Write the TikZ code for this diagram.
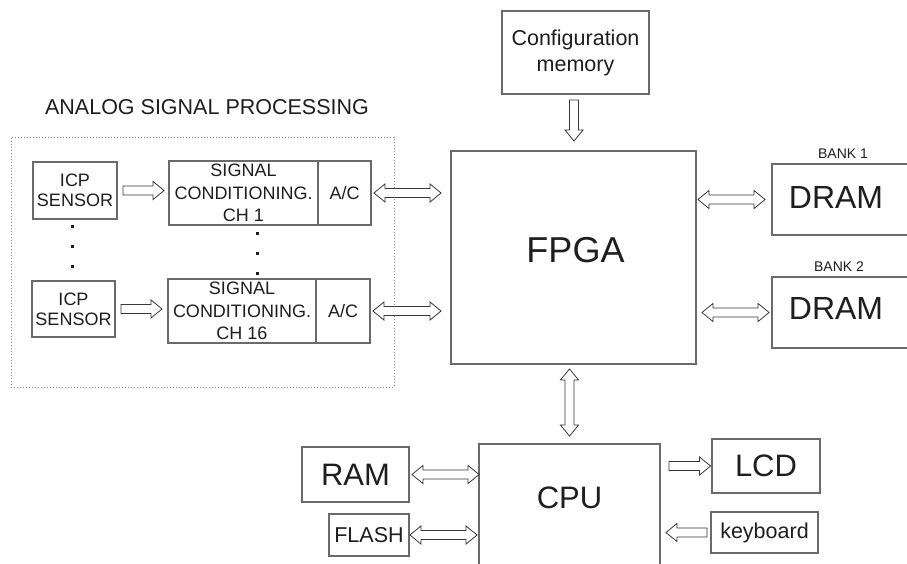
\documentclass[tikz,border=0pt]{standalone}
\usepackage{fontspec}
\setmainfont{Liberation Sans}
\usetikzlibrary{calc}
\definecolor{boxgray}{HTML}{6A6A6A}
\definecolor{txtc}{HTML}{1E1E1E}
\definecolor{arrc}{HTML}{383838}
\definecolor{dotc}{HTML}{8A8A8A}
\begin{document}
\begin{tikzpicture}[x=1pt,y=-1pt,
  box/.style={draw=boxgray, line width=1.9pt, inner sep=0pt, text=txtc, align=center},
  lbl/.style={inner sep=0pt, text=txtc, align=center},
  fS/.style={font=\fontsize{14}{16}\selectfont},
  fA/.style={font=\fontsize{18}{20}\selectfont},
  fB/.style={font=\fontsize{18}{22.5}\selectfont},
  fC/.style={font=\fontsize{21.5}{26}\selectfont},
  fL/.style={font=\fontsize{31}{36}\selectfont},
  fX/.style={font=\fontsize{36}{40}\selectfont},
  onearrow/.style={draw=arrc, line width=0.8pt, fill=white, line join=miter,
    to path={let \p1=(\tikztostart), \p2=(\tikztotarget),
      \n1={atan2(\y2-\y1,\x2-\x1)}, \n2={veclen(\x2-\x1,\y2-\y1)} in
      ($(\p1)+(\n1+90:4.5pt)$) -- ($(\p1)+(\n1:\n2-11pt)+(\n1+90:4.5pt)$)
      -- ($(\p1)+(\n1:\n2-11pt)+(\n1+90:9pt)$) -- (\p2)
      -- ($(\p1)+(\n1:\n2-11pt)+(\n1-90:9pt)$)
      -- ($(\p1)+(\n1:\n2-11pt)+(\n1-90:4.5pt)$)
      -- ($(\p1)+(\n1-90:4.5pt)$) -- cycle}},
  twoarrow/.style={draw=arrc, line width=0.8pt, fill=white, line join=miter,
    to path={let \p1=(\tikztostart), \p2=(\tikztotarget),
      \n1={atan2(\y2-\y1,\x2-\x1)}, \n2={veclen(\x2-\x1,\y2-\y1)} in
      (\p1) -- ($(\p1)+(\n1:11pt)+(\n1+90:9pt)$) -- ($(\p1)+(\n1:11pt)+(\n1+90:4.5pt)$)
      -- ($(\p1)+(\n1:\n2-11pt)+(\n1+90:4.5pt)$) -- ($(\p1)+(\n1:\n2-11pt)+(\n1+90:9pt)$)
      -- (\p2) -- ($(\p1)+(\n1:\n2-11pt)+(\n1-90:9pt)$) -- ($(\p1)+(\n1:\n2-11pt)+(\n1-90:4.5pt)$)
      -- ($(\p1)+(\n1:11pt)+(\n1-90:4.5pt)$) -- ($(\p1)+(\n1:11pt)+(\n1-90:9pt)$) -- cycle}}
]
\useasboundingbox (0,0) rectangle (907,563);
\clip (0,0) rectangle (907,563);
\fill[white] (0,0) rectangle (907,563);

% analog signal processing group
\node[draw=dotc, line width=0.8pt, dash pattern=on 0.9pt off 2.1pt, minimum width=383, minimum height=250, inner sep=0pt] (asp) at (202.5,262) {};
\node[lbl, font=\fontsize{21.5}{24}\selectfont] (title) at (207,107.5) {ANALOG SIGNAL PROCESSING};

\node[box, fA, minimum width=84, minimum height=57] (sens1) at (75,190.5) {ICP\\SENSOR};
\node[box, fA, minimum width=83, minimum height=56] (sens2) at (73.5,309) {ICP\\SENSOR};
\node[box, fB, minimum width=149, minimum height=64] (sc1) at (243.5,193) {SIGNAL\\CONDITIONING.\\CH 1};
\node[box, fA, minimum width=53, minimum height=64] (ac1) at (344.5,193) {A/C};
\node[box, fB, minimum width=148, minimum height=64] (sc2) at (242,311) {SIGNAL\\CONDITIONING.\\CH 16};
\node[box, fA, minimum width=54, minimum height=64] (ac2) at (343,311) {A/C};

\foreach \yy in {226,246,266} \fill[txtc] (72,\yy) ++(-1.5pt,-1.5pt) rectangle ++(3pt,3pt);
\foreach \yy in {233,253,273} \fill[txtc] (257,\yy) ++(-1.5pt,-1.5pt) rectangle ++(3pt,3pt);

% FPGA and memories
\node[box, fC, minimum width=147, minimum height=83] (cfg) at (575.5,52.5) {Configuration\\memory};
\node[box, minimum width=245, minimum height=213] (fpga) at (573.5,257.5) {};
\node[lbl, fX] (fpgat) at (575.5,250) {FPGA};

\node[box, minimum width=148, minimum height=71] (dram1) at (846,199.5) {};
\node[lbl, font=\fontsize{32}{36}\selectfont] (dram1t) at (836,197) {DRAM};
\node[lbl, fS] (bank1) at (843,154) {BANK 1};
\node[box, minimum width=148, minimum height=71] (dram2) at (846,312.5) {};
\node[lbl, font=\fontsize{32}{36}\selectfont] (dram2t) at (836,308.5) {DRAM};
\node[lbl, fS] (bank2) at (839,267) {BANK 2};

% CPU side
\node[box, minimum width=181, minimum height=156] (cpu) at (569.5,522) {};
\node[lbl, fL] (cput) at (569.5,498) {CPU};
\node[box, fL, minimum width=107, minimum height=55] (ram) at (355.5,474.5) {RAM};
\node[box, fC, minimum width=80, minimum height=42] (flash) at (369,535) {FLASH};
\node[box, fL, minimum width=108, minimum height=54] (lcd) at (766,466) {LCD};
\node[box, fC, minimum width=107, minimum height=41] (kbd) at (764.5,532.5) {keyboard};

% connectors
\draw[onearrow] ($(sens1.east)+(5,0)$) to ($(sens1.east -| sc1.west)+(-4,0)$);
\draw[onearrow] ($(sens2.east)+(5,0)$) to ($(sens2.east -| sc2.west)+(-5,0)$);
\draw[twoarrow] ($(ac1.east)+(2,0)$) to ($(ac1.east -| fpga.west)+(-9,0)$);
\draw[twoarrow] ($(ac2.east)+(2,0)$) to ($(ac2.east -| fpga.west)+(-9,0)$);
\draw[onearrow] ($(cfg.south)+(-1.5,5)$) to ($(cfg.south |- fpga.north)+(-1.5,-9)$);
\draw[twoarrow] ($(cpu.north |- fpga.south)+(0,4)$) to ($(cpu.north)+(0,-7)$);
\draw[twoarrow] ($(fpga.east |- dram1.west)+(1,0)$) to ($(dram1.west)+(-6,0)$);
\draw[twoarrow] ($(fpga.east |- dram2.west)+(5,0)$) to ($(dram2.west)+(-2,0)$);
\draw[twoarrow] ($(ram.east)+(2,0)$) to ($(ram.east -| cpu.west)+(1,0)$);
\draw[twoarrow] ($(flash.east)+(0,0)$) to ($(flash.east -| cpu.west)+(-1,0)$);
\draw[onearrow] ($(cpu.east |- lcd.west)+(8,0)$) to ($(lcd.west)+(-0.5,0)$);
\draw[onearrow] ($(kbd.west)+(-3,0)$) to ($(kbd.west -| cpu.east)+(5,0)$);
\end{tikzpicture}
\end{document}
